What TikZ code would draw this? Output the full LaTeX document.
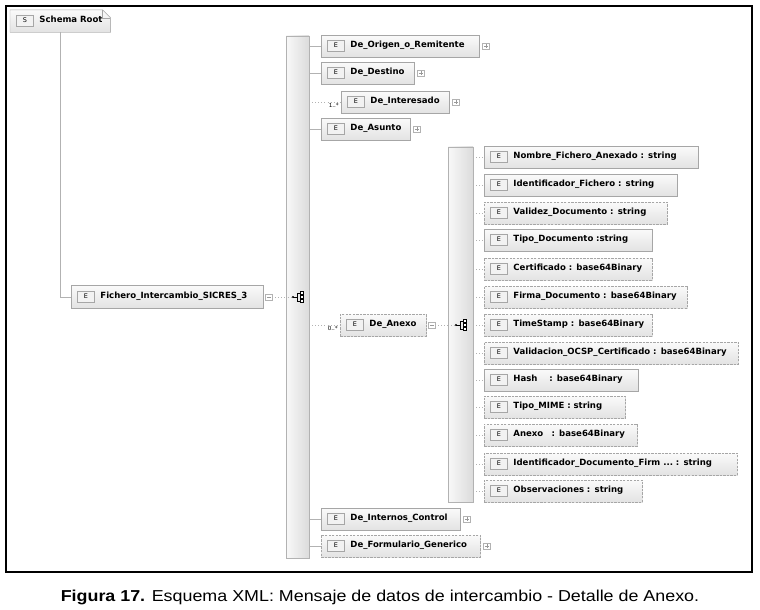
\documentclass[tikz,border=0pt]{standalone}
\usepackage{fontspec}
\setmainfont{Liberation Sans}
\newfontfamily\xsdfont{DejaVu Sans}
\usetikzlibrary{positioning,calc,shadows}

\setlength\fboxsep{1pt}
\setlength\fboxrule{0.4pt}
\newcommand\eicon{\fcolorbox{gray!70}{gray!10}{\makebox[12pt]{\rule[-1.8pt]{0pt}{6.8pt}\mdseries\fontsize{5.5}{5}\selectfont E}}\hspace{5pt}}
\newcommand\sicon{\fcolorbox{gray!70}{gray!10}{\makebox[12pt]{\rule[-1.8pt]{0pt}{6.8pt}\mdseries\fontsize{5.5}{5}\selectfont S}}\hspace{5pt}}

\tikzset{
  elem/.style={draw=gray!70, top color=gray!4, bottom color=gray!22, anchor=west,
    minimum height=0.66cm, inner xsep=0.18cm, inner ysep=0pt, text width=#1, align=left,
    font=\xsdfont\bfseries\fontsize{7.3}{8}\selectfont,
    drop shadow={opacity=0.3, shadow xshift=0.7pt, shadow yshift=-0.7pt}},
  optelem/.style={elem=#1, dash pattern=on 2pt off 1pt},
  link/.style={draw=gray!60, line width=0.6pt},
  optlink/.style={link, dotted},
  seqbar/.style={draw=gray!60, left color=gray!5, right color=gray!28, inner sep=0pt,
    minimum width=0.69cm, minimum height=15.66cm},
  mult/.style={font=\xsdfont\fontsize{4.8}{5}\selectfont, inner sep=0pt, anchor=north east},
  expbox/.style={draw=gray!60, fill=white, minimum size=0.19cm, inner sep=0pt, anchor=west},
  expminus/.style={expbox, path picture={
      \draw[gray!80] ($(path picture bounding box.west)+(1.5,0)$) -- ($(path picture bounding box.east)+(-1.5,0)$);}},
  expplus/.style={expbox, path picture={
      \draw[gray!80] ($(path picture bounding box.west)+(1.5,0)$) -- ($(path picture bounding box.east)+(-1.5,0)$)
        ($(path picture bounding box.north)+(0,1.5)$) -- ($(path picture bounding box.south)+(0,-1.5)$);}},
  seqicon/.pic={
    \fill (-6,0) circle (1pt);
    \draw[line width=0.5pt] (-6,0) -- (-2,0) (-2,-4) -- (-2,4) (-2,-4) -- (1,-4) (-2,4) -- (1,4);
    \filldraw[fill=white, line width=0.4pt] (1,-5.5) rectangle (4,-2.5) (1,-1.5) rectangle (4,1.5) (1,2.5) rectangle (4,5.5);
    \coordinate (-in) at (-7,0);
  }
}

\begin{document}
\begin{tikzpicture}[x=0.03cm, y=-0.03cm]
\useasboundingbox (0,0) rectangle (760,609);
\fill[white] (0,0) rectangle (760,609);
\draw[line width=1pt] (6,6) rectangle (752,572);

% schema root
\node[elem=2.64cm, draw=none] (root) at (10,21) {\sicon Schema Root};
\fill[white] ($(root.north east)+(-8,0)$) -- ($(root.north east)+(1,-1)$) -- ($(root.north east)+(1,8)$) -- cycle;
\draw[gray!70] (root.south west) -- (root.north west) -- ($(root.north east)+(-8,0)$) -- ($(root.north east)+(0,8)$) -- (root.south east) -- cycle;
\draw[gray!70] ($(root.north east)+(-8,0)$) -- ($(root.north east)+(-8,8)$) -- ($(root.north east)+(0,8)$);

% top element
\node[elem=5.40cm, minimum height=0.69cm] (fich) at (71,297) {\eicon Fichero\_Intercambio\_SICRES\_3};
\draw[link] (root.south) |- (fich.west);
\node[expminus] (fichx) at ($(fich.east)+(2,0)$) {};
\node[seqbar] (bara) at (297.5,297) {};
\pic (seqa) at (299,297) {seqicon};
\draw[optlink] (fichx.east) -- (seqa-in);

% children of the sequence
\node[elem=4.38cm] (origen) at (321,46) {\eicon De\_Origen\_o\_Remitente};
\node[expplus] (origenx) at ($(origen.east)+(3,0)$) {};
\draw[link] (origen.west -| bara.east) -- (origen.west);

\node[elem=2.43cm] (destino) at (321,73) {\eicon De\_Destino};
\node[expplus] (destinox) at ($(destino.east)+(3,0)$) {};
\draw[link] (destino.west -| bara.east) -- (destino.west);

\node[elem=2.88cm] (inter) at (341,102) {\eicon De\_Interesado};
\node[expplus] (interx) at ($(inter.east)+(3,0)$) {};
\draw[optlink] (inter.west -| bara.east) -- (inter.west);
\node[mult] (intermult) at ($(inter.west)+(-2,1)$) {1..*};

\node[elem=2.31cm] (asunto) at (321,129) {\eicon De\_Asunto};
\node[expplus] (asuntox) at ($(asunto.east)+(3,0)$) {};
\draw[link] (asunto.west -| bara.east) -- (asunto.west);

\node[optelem=2.22cm] (anexo) at (340,325) {\eicon De\_Anexo};
\node[expminus] (anexox) at ($(anexo.east)+(2,0)$) {};
\draw[optlink] (anexo.west -| bara.east) -- (anexo.west);
\node[mult] (anexomult) at ($(anexo.west)+(-2,1)$) {0..*};

\node[elem=3.81cm] (internos) at (321,519) {\eicon De\_Internos\_Control};
\node[expplus] (internosx) at ($(internos.east)+(3,0)$) {};
\draw[link] (internos.west -| bara.east) -- (internos.west);

\node[optelem=4.41cm] (formul) at (321,546) {\eicon De\_Formulario\_Generico};
\node[expplus] (formulx) at ($(formul.east)+(3,0)$) {};
\draw[link] (formul.west -| bara.east) -- (formul.west);

% detail of De_Anexo
\node[seqbar, minimum width=0.75cm, minimum height=10.65cm] (barb) at (460.5,324.5) {};
\pic (seqb) at (462,325) {seqicon};
\draw[optlink] (anexox.east) -- (seqb-in);

\node[elem=6.06cm] (nombre) at (484,157) {\eicon Nombre\_Fichero\_Anexado\ : string};
\node[elem=5.43cm] (idfich) at (484,185) {\eicon Identificador\_Fichero\ : string};
\node[optelem=5.13cm] (validez) at (484,213) {\eicon Validez\_Documento : string};
\node[elem=4.68cm] (tipodoc) at (484,240) {\eicon Tipo\_Documento\ :string};
\node[optelem=4.68cm] (certif) at (484,269) {\eicon Certificado : base64Binary};
\node[optelem=5.73cm] (firma) at (484,297) {\eicon Firma\_Documento : base64Binary};
\node[optelem=4.68cm] (tstamp) at (484,325) {\eicon TimeStamp : base64Binary};
\node[optelem=7.26cm] (ocsp) at (484,353) {\eicon Validacion\_OCSP\_Certificado : base64Binary};
\node[elem=4.26cm] (hash) at (484,380) {\eicon Hash\hspace{10pt}: base64Binary};
\node[optelem=3.87cm] (mime) at (484,407) {\eicon Tipo\_MIME : string};
\node[optelem=4.23cm] (anexob) at (484,435) {\eicon Anexo\hspace{7pt}: base64Binary};
\node[optelem=7.23cm] (iddoc) at (484,464) {\eicon Identificador\_Documento\_Firm ...\ : string};
\node[optelem=4.38cm] (observ) at (484,491) {\eicon Observaciones : string};

\draw[optlink] (nombre.west -| barb.east) -- (nombre.west);
\draw[optlink] (idfich.west -| barb.east) -- (idfich.west);
\draw[optlink] (validez.west -| barb.east) -- (validez.west);
\draw[optlink] (tipodoc.west -| barb.east) -- (tipodoc.west);
\draw[optlink] (certif.west -| barb.east) -- (certif.west);
\draw[optlink] (firma.west -| barb.east) -- (firma.west);
\draw[optlink] (tstamp.west -| barb.east) -- (tstamp.west);
\draw[optlink] (ocsp.west -| barb.east) -- (ocsp.west);
\draw[optlink] (hash.west -| barb.east) -- (hash.west);
\draw[optlink] (mime.west -| barb.east) -- (mime.west);
\draw[optlink] (anexob.west -| barb.east) -- (anexob.west);
\draw[optlink] (iddoc.west -| barb.east) -- (iddoc.west);
\draw[optlink] (observ.west -| barb.east) -- (observ.west);

% caption
\node[font=\fontsize{13.5}{15}\selectfont] (caption) at (380,597)
  {\scalebox{1.13}[1]{\textbf{Figura 17.} Esquema XML: Mensaje de datos de intercambio - Detalle de Anexo.}};
\end{tikzpicture}
\end{document}
